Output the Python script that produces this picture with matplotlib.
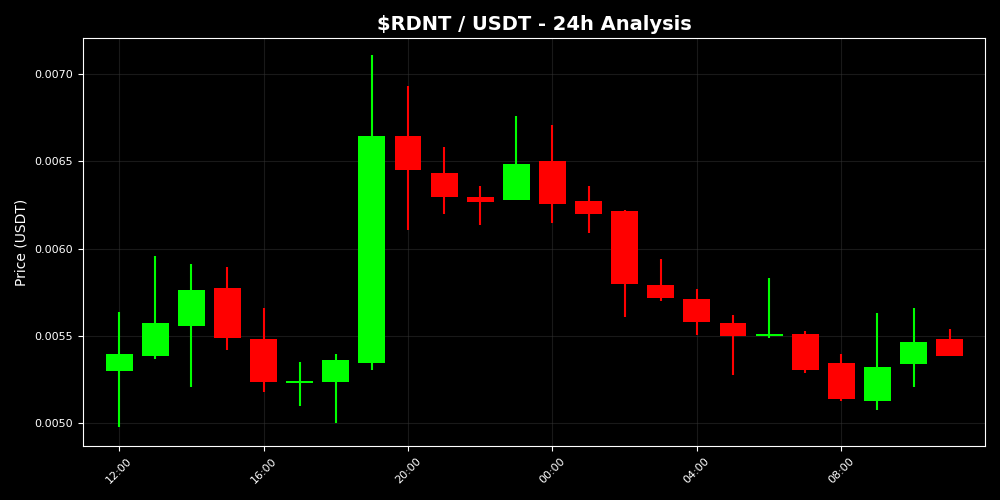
import numpy as np
import pandas as pd
import matplotlib
matplotlib.use("Agg")
import matplotlib.pyplot as plt
import matplotlib.dates as mdates

# hourly candles, 12:00 -> 11:00 next day
times = pd.date_range("2024-01-01 12:00", periods=24, freq="h")
opens = [0.00530, 0.005386, 0.005558, 0.005773, 0.005482, 0.005231, 0.005238, 0.005346,
         0.006642, 0.00643, 0.006295, 0.006278, 0.006499, 0.00627, 0.006215, 0.00579,
         0.00571, 0.005573, 0.005500, 0.00551, 0.005345, 0.005129, 0.005341, 0.005482]
closes = [0.00540, 0.005575, 0.005762, 0.005489, 0.005238, 0.005236, 0.005362, 0.006642,
          0.006449, 0.006295, 0.006266, 0.006482, 0.006255, 0.006198, 0.005796, 0.005718,
          0.005579, 0.0055, 0.005506, 0.005305, 0.005141, 0.005322, 0.005466, 0.005385]
highs = [0.005636, 0.005956, 0.005914, 0.005897, 0.005659, 0.00535, 0.005396, 0.007105,
         0.006933, 0.006579, 0.006356, 0.006756, 0.006705, 0.006356, 0.00622, 0.005939,
         0.005767, 0.005619, 0.00583, 0.005527, 0.005396, 0.00563, 0.005659, 0.005539]
lows = [0.004981, 0.005367, 0.005209, 0.005421, 0.005181, 0.005101, 0.0050, 0.005306,
        0.006109, 0.006198, 0.006135, 0.006278, 0.006146, 0.006089, 0.005609, 0.0057,
        0.005506, 0.005278, 0.005489, 0.005289, 0.005129, 0.005078, 0.005209, 0.005385]

x = mdates.date2num(times)
width = 0.031  # days

fig = plt.figure(figsize=(10, 5), dpi=100, facecolor="black")
ax = fig.add_axes([0.083, 0.108, 0.902, 0.816], facecolor="black")

for xi, o, c, h, l in zip(x, opens, closes, highs, lows):
    color = "#00ff00" if c >= o else "#ff0000"
    ax.vlines(xi, l, h, color=color, linewidth=1.5, zorder=2)
    bottom = min(o, c)
    height = max(abs(c - o), 0.00001)
    ax.bar(xi, height, width=width, bottom=bottom, color=color, zorder=3)

ax.set_xlim(x[0] - 1.0 / 24, x[0] + 23.98 / 24)
ax.set_ylim(0.004871, 0.007205)

ax.xaxis.set_major_locator(mdates.HourLocator(byhour=range(0, 24, 4)))
ax.xaxis.set_major_formatter(mdates.DateFormatter("%H:%M"))
ax.yaxis.set_major_formatter(matplotlib.ticker.FormatStrFormatter("%.4f"))
plt.setp(ax.get_xticklabels(), rotation=45)

ax.tick_params(colors="white", labelsize=8)
for s in ax.spines.values():
    s.set_color("white")
ax.grid(True, color="#333333", alpha=0.5, linewidth=0.8)

ax.set_title("$RDNT / USDT - 24h Analysis", color="white", fontsize=14, fontweight="bold")
ax.set_ylabel("Price (USDT)", color="white", fontsize=10)

fig.savefig("out.png", facecolor="black")
